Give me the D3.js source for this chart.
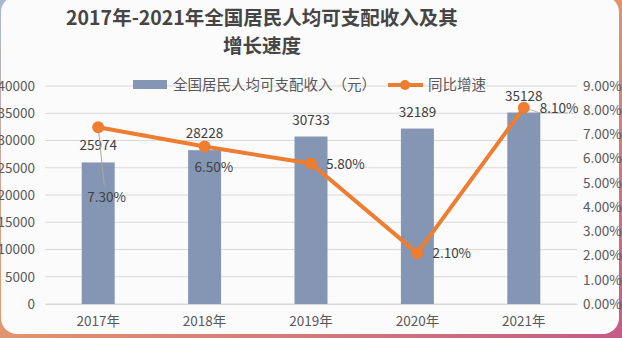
<!DOCTYPE html>
<html><head><meta charset="utf-8">
<script src="https://cdn.jsdelivr.net/npm/d3@7"></script>
<style>
html,body{margin:0;padding:0;overflow:hidden;background:#fff;}
svg{display:block;}
text{font-family:"Noto Sans CJK SC","Noto Sans",sans-serif;}
</style></head>
<body>
<svg id="c" width="622" height="338"></svg>
<script>
const years = ["2017年","2018年","2019年","2020年","2021年"];
const income = [25974, 28228, 30733, 32189, 35128];
const growth = [7.3, 6.5, 5.8, 2.1, 8.1];
const leftTicks = [0,5000,10000,15000,20000,25000,30000,35000,40000];
const rightTicks = [0,1,2,3,4,5,6,7,8,9];
const titleLines = ["2017年-2021年全国居民人均可支配收入及其","增长速度"];
const legendLabels = ["全国居民人均可支配收入（元）","同比增速"];

const svg = d3.select("#c");
const W = 622, H = 338;

// page / card background
const defs = svg.append("defs");
const g1 = defs.append("linearGradient").attr("id","bg").attr("x1","0").attr("y1","0").attr("x2","1").attr("y2","1");
g1.append("stop").attr("offset","0").attr("stop-color","#a9b8d2");
g1.append("stop").attr("offset","0.45").attr("stop-color","#e39a6c");
g1.append("stop").attr("offset","1").attr("stop-color","#c45c86");
svg.append("rect").attr("width",W).attr("height",H).attr("fill","url(#bg)");
svg.append("rect").attr("x",1).attr("y",-4).attr("width",618).attr("height",338).attr("rx",16).attr("fill","#fbfbfc");

const margin = {left:45, right:577, top:86, bottom:304};
const x = d3.scaleBand().domain(years).range([margin.left, margin.right]).paddingInner(0.69).paddingOuter(0.345);
const yL = d3.scaleLinear().domain([0,40000]).range([margin.bottom, margin.top]);
const yR = d3.scaleLinear().domain([0,9]).range([margin.bottom, margin.top]);

// gridlines
svg.append("g").selectAll("line").data(leftTicks).join("line")
  .attr("x1",margin.left).attr("x2",margin.right)
  .attr("y1",d=>yL(d)).attr("y2",d=>yL(d))
  .attr("stroke","#d9d9d9").attr("stroke-width",1.2);

// left axis
const axL = svg.append("g").attr("transform",`translate(${margin.left},0)`)
  .call(d3.axisLeft(yL).tickValues(leftTicks).tickSize(0).tickPadding(10).tickFormat(d3.format("d")));
axL.select(".domain").remove();
axL.selectAll("text").attr("font-size",13.5).attr("fill","#595959").style("font-family",'"Noto Sans CJK SC",sans-serif');

// right axis
const axR = svg.append("g").attr("transform",`translate(${margin.right},0)`)
  .call(d3.axisRight(yR).tickValues(rightTicks).tickSize(0).tickPadding(6).tickFormat(d=>d3.format(".2f")(d)+"%"));
axR.select(".domain").remove();
axR.selectAll("text").attr("font-size",13.5).attr("fill","#595959").style("font-family",'"Noto Sans CJK SC",sans-serif');

// bottom axis
const axB = svg.append("g").attr("transform",`translate(0,${margin.bottom})`)
  .call(d3.axisBottom(x).tickSize(0).tickPadding(12));
axB.select(".domain").attr("stroke","#d9d9d9");
axB.selectAll("text").attr("font-size",13.5).attr("fill","#595959").style("font-family",'"Noto Sans CJK SC",sans-serif');

// bars
svg.append("g").selectAll("rect").data(income).join("rect")
  .attr("x",(d,i)=>x(years[i])).attr("width",x.bandwidth())
  .attr("y",d=>yL(d)).attr("height",d=>yL(0)-yL(d))
  .attr("fill","#8596b4");

// bar labels
svg.append("g").selectAll("text").data(income).join("text")
  .attr("x",(d,i)=>x(years[i])+x.bandwidth()/2)
  .attr("y",d=>yL(d)-12)
  .attr("text-anchor","middle").attr("font-size",13.5).attr("fill","#404040")
  .text(d=>d);

// leader lines
const cx = i => x(years[i]) + x.bandwidth()/2;
svg.append("line").attr("x1",cx(0)).attr("y1",yR(growth[0])).attr("x2",cx(0)+6).attr("y2",yR(growth[0])+58)
  .attr("stroke","#a6a6a6").attr("stroke-width",1);
svg.append("polyline").attr("points",`${cx(4)},${yR(growth[4])} ${cx(4)+16},${yR(growth[4])+5} ${cx(4)+44},${yR(growth[4])+5}`)
  .attr("fill","none").attr("stroke","#a6a6a6").attr("stroke-width",0.8);

// line
const line = d3.line().x((d,i)=>cx(i)).y(d=>yR(d));
svg.append("path").datum(growth).attr("d",line).attr("fill","none")
  .attr("stroke","#ed7d31").attr("stroke-width",4).attr("stroke-linejoin","round");
svg.append("g").selectAll("circle").data(growth).join("circle")
  .attr("cx",(d,i)=>cx(i)).attr("cy",d=>yR(d)).attr("r",6).attr("fill","#ed7d31");

// pct labels (offset per label)
const pctOff = [[-11,75,"start"],[-10,25,"start"],[15,5,"start"],[15,5,"start"],[16,5,"start"]];
svg.append("g").selectAll("text").data(growth).join("text")
  .attr("x",(d,i)=>cx(i)+pctOff[i][0])
  .attr("y",(d,i)=>yR(d)+pctOff[i][1])
  .attr("text-anchor",(d,i)=>pctOff[i][2])
  .attr("font-size",13.5).attr("fill","#404040")
  .text(d=>d3.format(".2f")(d)+"%");

// title
svg.append("g").selectAll("text").data(titleLines).join("text")
  .attr("x",262).attr("y",(d,i)=>25+i*28)
  .attr("text-anchor","middle").attr("font-size",19.5).attr("font-weight","bold").attr("fill","#454545")
  .text(d=>d);

// legend
const lg = svg.append("g");
lg.append("rect").attr("x",133).attr("y",80).attr("width",34).attr("height",9).attr("fill","#8596b4");
lg.append("text").attr("x",173).attr("y",90).attr("font-size",14.5).attr("fill","#595959").text(legendLabels[0]);
lg.append("line").attr("x1",388).attr("x2",423).attr("y1",85).attr("y2",85).attr("stroke","#ed7d31").attr("stroke-width",4);
lg.append("circle").attr("cx",405).attr("cy",85).attr("r",5).attr("fill","#ed7d31");
lg.append("text").attr("x",428).attr("y",90).attr("font-size",14.5).attr("fill","#595959").text(legendLabels[1]);
</script>
</body></html>
